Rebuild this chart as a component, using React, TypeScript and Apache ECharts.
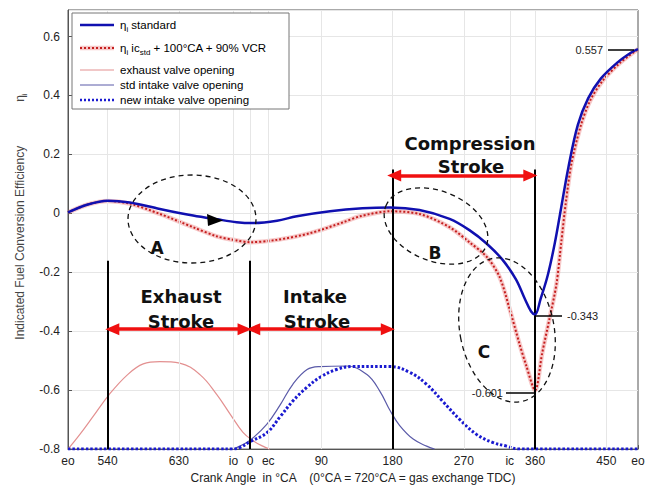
import React, { useEffect, useRef } from 'react';
import * as echarts from 'echarts';

const F = "'Liberation Sans', Arial, sans-serif";
const FB = "'DejaVu Sans', 'Liberation Sans', sans-serif";

// x axis tick positions (deg, cycle from eo to eo) and their labels
const tickValues = [-230, -180, -90, -21, 0, 23, 90, 180, 270, 328, 360, 450, 490];
const tickLabels = ['eo', '540', '630', 'io', '0', 'ec', '90', '180', '270', 'ic', '360', '450', 'eo'];

// eta_i standard
const stdAngles = [-230, -205, -180, -152, -114, -72, -42, -17, 3, 34, 59, 101, 142, 177, 214, 252, 277, 299, 319, 336, 347, 355, 360, 367, 376, 385, 393, 402, 414, 427, 443, 465, 481, 490];
const stdValues = [0.003, 0.03, 0.043, 0.037, 0.015, -0.007, -0.02, -0.03, -0.033, -0.025, -0.01, 0.007, 0.017, 0.02, 0.011, -0.019, -0.057, -0.103, -0.158, -0.225, -0.29, -0.333, -0.343, -0.29, -0.21, -0.1, 0.02, 0.155, 0.3, 0.39, 0.457, 0.514, 0.545, 0.557];

// eta_i ic_std + 100°CA + 90% VCR
const vcrAngles = [-230, -205, -180, -152, -114, -72, -42, -17, 0, 34, 76, 118, 139, 177, 214, 252, 278, 299, 315, 328, 340, 349, 360, 369, 378, 387, 393, 399, 406, 418, 430, 446, 467, 490];
const vcrValues = [0.003, 0.03, 0.042, 0.033, -0.002, -0.047, -0.078, -0.092, -0.098, -0.09, -0.067, -0.03, -0.01, 0.007, -0.002, -0.047, -0.1, -0.148, -0.215, -0.326, -0.44, -0.518, -0.601, -0.474, -0.36, -0.24, -0.1, 0.04, 0.17, 0.3, 0.385, 0.452, 0.51, 0.557];

// exhaust valve opening
const exhAngles = [-230, -215, -198, -178, -155, -135, -114, -89, -63, -42, -25, -9, 4, 16, 25];
const exhValues = [-0.8, -0.75, -0.688, -0.615, -0.548, -0.511, -0.503, -0.508, -0.548, -0.615, -0.682, -0.743, -0.772, -0.79, -0.8];

// std intake valve opening
const sivAngles = [-22, -13, 0, 21, 38, 54, 72, 88, 122, 148, 164, 177, 189, 206, 223, 233];
const sivValues = [-0.8, -0.79, -0.77, -0.716, -0.65, -0.58, -0.53, -0.52, -0.518, -0.548, -0.604, -0.67, -0.72, -0.766, -0.79, -0.8];

// new intake valve opening
const nivAngles = [-230, -120, -40, -22, -13, 0, 21, 38, 54, 72, 88, 109, 129, 177, 202, 223, 243, 265, 286, 306, 324, 340, 420, 490];
const nivValues = [-0.8, -0.8, -0.8, -0.8, -0.795, -0.775, -0.745, -0.69, -0.637, -0.59, -0.557, -0.53, -0.52, -0.52, -0.54, -0.58, -0.637, -0.7, -0.75, -0.777, -0.79, -0.8, -0.8, -0.8];

// stroke boundaries (deg) and arrow spans
const strokeLines = [-180, 0, 180, 360];
const strokeLineTops = [-0.161, -0.161, 0.149, 0.149];
const arrowSpans = [[-174, -7, -0.393], [4, 174, -0.393], [182, 354, 0.128]];

const zip = (a: number[], b: number[]) => a.map((x, i) => [x, b[i]]);

export default function App() {
  const ref = useRef<HTMLDivElement>(null);
  useEffect(() => {
    const chart = echarts.init(ref.current!, null, { renderer: 'svg' });
    const labelFor = (v: number) => {
      const i = tickValues.findIndex((t) => Math.abs(t - v) < 0.5);
      return i >= 0 ? tickLabels[i] : '';
    };
    const legendItems = [
      { y: 25, stroke: '#1010b0', w: 2.5, dash: null as any, glow: false, text: '{a|η}{s|i}{a| standard}' },
      { y: 48, stroke: '#c41e1e', w: 2, dash: [2, 2], glow: true, text: '{a|η}{s|i}{a| ic}{s|std}{a| + 100°CA + 90% VCR}' },
      { y: 70, stroke: '#e39090', w: 1, dash: null, glow: false, text: '{a|exhaust valve opening}' },
      { y: 85, stroke: '#5a5aa8', w: 1, dash: null, glow: false, text: '{a|std intake valve opening}' },
      { y: 100, stroke: '#1a1ad0', w: 2.5, dash: [2, 2], glow: false, text: '{a|new intake valve opening}' },
    ];
    const rich = {
      a: { fontFamily: F, fontSize: 11.5, color: '#222', lineHeight: 16, verticalAlign: 'middle' },
      s: { fontFamily: F, fontSize: 8, color: '#222', lineHeight: 8, verticalAlign: 'bottom' },
    };
    const legendGraphic: any[] = [
      { type: 'rect', shape: { x: 72, y: 13, width: 217, height: 96 }, style: { fill: '#fff', stroke: '#777', lineWidth: 1 }, z: 10 },
    ];
    legendItems.forEach((it) => {
      if (it.glow) {
        legendGraphic.push({ type: 'line', shape: { x1: 80, y1: it.y, x2: 114, y2: it.y }, style: { stroke: 'rgba(235,120,120,0.4)', lineWidth: 4.5 }, z: 11 });
      }
      legendGraphic.push({ type: 'line', shape: { x1: 80, y1: it.y, x2: 114, y2: it.y }, style: { stroke: it.stroke, lineWidth: it.w, lineDash: it.dash || undefined }, z: 12 });
      legendGraphic.push({ type: 'text', x: 120, y: it.y, style: { text: it.text, rich, textVerticalAlign: 'middle', verticalAlign: 'middle' }, z: 12 });
    });

    const bold = (text: string, x: number, y: number, size = 18) => ({
      type: 'text', x, y, z: 20,
      style: { text, font: `bold ${size}px ${FB}`, fill: '#111', textAlign: 'center', textVerticalAlign: 'middle', align: 'center', verticalAlign: 'middle' },
    });
    const small = (text: string, x: number, y: number, align: string) => ({
      type: 'text', x, y, z: 20,
      style: { text, font: `11px ${F}`, fill: '#222', textAlign: align, align, textVerticalAlign: 'middle', verticalAlign: 'middle' },
    });
    const dashed = { stroke: '#111', lineWidth: 1.3, lineDash: [5, 4], fill: 'none' };
    const annotations: any[] = [
      bold('Exhaust', 181, 296), bold('Stroke', 181, 321),
      bold('Intake', 315, 296), bold('Stroke', 317, 321),
      bold('Compression', 470, 143), bold('Stroke', 471, 166),
      bold('A', 157, 248, 17), bold('B', 435, 253, 17), bold('C', 484, 352, 17),
      { type: 'ellipse', shape: { cx: 192, cy: 219, rx: 64, ry: 44 }, style: dashed, z: 19 },
      { type: 'ellipse', x: 436, y: 226, rotation: -0.38, shape: { cx: 0, cy: 0, rx: 54, ry: 35 }, style: dashed, z: 19 },
      { type: 'ellipse', x: 507, y: 330, rotation: 0.2, shape: { cx: 0, cy: 0, rx: 47, ry: 73 }, style: dashed, z: 19 },
      { type: 'polygon', shape: { points: [[207, 214], [223, 220.5], [208, 226]] }, style: { fill: '#000' }, z: 19 },
      small('0.557', 603, 50, 'right'),
      { type: 'line', shape: { x1: 608, y1: 50, x2: 634, y2: 50 }, style: { stroke: '#000', lineWidth: 1.5 }, z: 19 },
      small('-0.343', 567, 316, 'left'),
      { type: 'line', shape: { x1: 535, y1: 316, x2: 562, y2: 316 }, style: { stroke: '#000', lineWidth: 1.5 }, z: 19 },
      small('-0.601', 503, 393, 'right'),
      { type: 'line', shape: { x1: 506, y1: 393, x2: 535, y2: 393 }, style: { stroke: '#000', lineWidth: 1.5 }, z: 19 },
    ];

    const option: any = {
      animation: false,
      backgroundColor: '#fff',
      grid: { left: 68, right: 15, top: 10, bottom: 34, show: true, borderColor: '#555', borderWidth: 1, backgroundColor: 'transparent' },
      xAxis: {
        type: 'value', min: -230, max: 490,
        name: 'Crank Angle  in °CA    (0°CA = 720°CA = gas exchange TDC)',
        nameLocation: 'middle', nameGap: 17,
        nameTextStyle: { fontFamily: F, fontSize: 12, color: '#222' },
        axisLine: { onZero: false, lineStyle: { color: '#555' } },
        axisTick: { inside: true, length: 4, customValues: tickValues, lineStyle: { color: '#555' } },
        axisLabel: { customValues: tickValues, formatter: (v: number) => labelFor(v), fontFamily: F, fontSize: 12, color: '#222', margin: 6 },
        splitLine: { show: false },
      },
      yAxis: {
        type: 'value', min: -0.8, max: 0.69, interval: 0.2,
        name: '{g| }{a|Indicated Fuel Conversion Efficiency}{h| }{a|η}{s|i}',
        nameLocation: 'middle', nameGap: 39,
        nameTextStyle: {
          rich: {
            a: { fontFamily: F, fontSize: 12, color: '#444', lineHeight: 16, verticalAlign: 'middle' },
            s: { fontFamily: F, fontSize: 8, color: '#444', lineHeight: 8, verticalAlign: 'bottom' },
            g: { fontSize: 12, width: 26 },
            h: { fontSize: 12, width: 44 },
          },
        },
        axisLine: { show: true, onZero: false, lineStyle: { color: '#555' } },
        axisTick: { inside: true, length: 4, lineStyle: { color: '#555' } },
        axisLabel: {
          fontFamily: F, fontSize: 12, color: '#222', margin: 8, showMaxLabel: false,
          formatter: (v: number) => { const r = Math.round(v * 10) / 10; return r === 0 ? '0' : String(r); },
        },
        splitLine: { show: true, lineStyle: { color: '#e6e6e6' } },
      },
      series: [
        {
          type: 'line', data: [[-230, -0.8]], silent: true, showSymbol: false, z: 1,
          lineStyle: { width: 0, opacity: 0 },
          markLine: {
            silent: true, symbol: ['none', 'none'], label: { show: false },
            lineStyle: { color: '#e6e6e6', type: 'solid', width: 1 },
            data: tickValues.slice(1, -1).map((v) => ({ xAxis: v })),
          },
        },
        { name: 'exhaust valve opening', type: 'line', data: zip(exhAngles, exhValues), smooth: 0.4, showSymbol: false, z: 2, lineStyle: { color: '#e39090', width: 1.2 } },
        { name: 'std intake valve opening', type: 'line', data: zip(sivAngles, sivValues), smooth: 0.4, showSymbol: false, z: 2, lineStyle: { color: '#5a5aa8', width: 1.2 } },
        { name: 'new intake valve opening', type: 'line', data: zip(nivAngles, nivValues), smooth: 0.4, showSymbol: false, z: 3, lineStyle: { color: '#1a1ad0', width: 3, type: [2.5, 2] } },
        { name: 'vcr glow', type: 'line', data: zip(vcrAngles, vcrValues), smooth: 0.3, showSymbol: false, z: 3, lineStyle: { color: 'rgba(235,120,120,0.4)', width: 4.5 } },
        { name: 'ηi ic std + 100°CA + 90% VCR', type: 'line', data: zip(vcrAngles, vcrValues), smooth: 0.3, showSymbol: false, z: 4, lineStyle: { color: '#c41e1e', width: 2, type: [2, 2] } },
        { name: 'ηi standard', type: 'line', data: zip(stdAngles, stdValues), smooth: 0.35, showSymbol: false, z: 5, lineStyle: { color: '#1010b0', width: 2.5 } },
        {
          type: 'line', data: [[-230, -0.8]], silent: true, showSymbol: false, z: 6,
          lineStyle: { width: 0, opacity: 0 },
          markLine: {
            silent: true, symbol: ['none', 'none'], label: { show: false },
            lineStyle: { color: '#000', type: 'solid', width: 2 },
            data: strokeLines.map((v, i) => [{ coord: [v, -0.8] }, { coord: [v, strokeLineTops[i]] }]),
          },
        },
        {
          type: 'line', data: [[-230, -0.8]], silent: true, showSymbol: false, z: 7,
          lineStyle: { width: 0, opacity: 0 },
          markLine: {
            silent: true, symbol: ['triangle', 'triangle'], symbolSize: [12, 14], label: { show: false },
            lineStyle: { color: '#f01010', type: 'solid', width: 3.5 },
            itemStyle: { color: '#f01010' },
            data: arrowSpans.map((s) => [{ coord: [s[0], s[2]] }, { coord: [s[1], s[2]] }]),
          },
        },
      ],
      graphic: [...legendGraphic, ...annotations],
    };
    chart.setOption(option);
    return () => chart.dispose();
  }, []);
  return <div ref={ref} style={{ position: 'fixed', left: 0, top: 0, width: 653, height: 489 }} />;
}
